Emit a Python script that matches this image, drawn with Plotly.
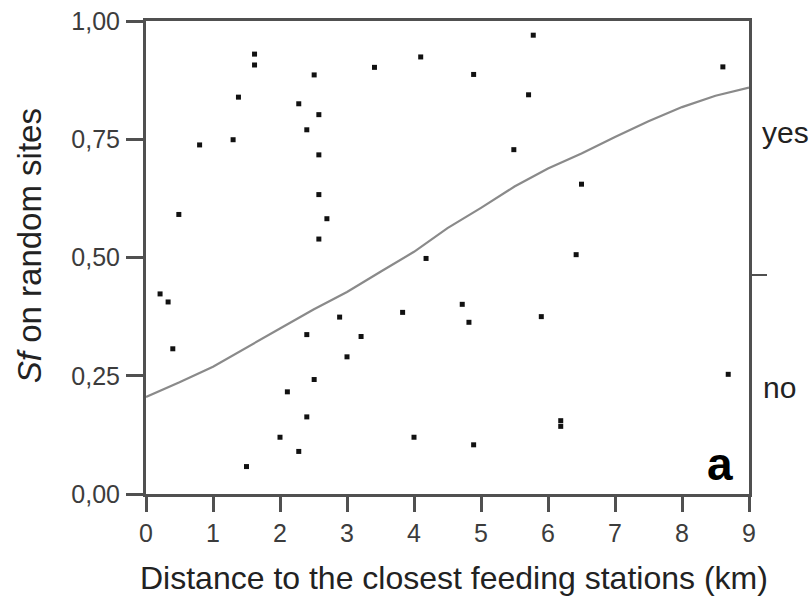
import plotly.graph_objects as go

# scatter points (distance km, Sf)
dist = [1.62, 1.62, 2.51, 3.41, 4.10, 1.38, 2.28, 2.58, 2.40, 0.80, 1.30, 2.58, 0.49, 2.58, 2.70, 2.58,
        4.18, 5.78, 4.89, 5.71, 8.61, 5.49, 6.50, 6.42,
        0.21, 0.33, 0.40, 2.89, 2.40, 3.21, 3.83, 3.00, 2.51, 2.11, 2.40, 2.00, 2.28, 1.50, 4.00,
        4.72, 4.82, 5.90, 8.69, 6.19, 6.19, 4.89]
sf = [0.930, 0.907, 0.886, 0.902, 0.924, 0.839, 0.825, 0.802, 0.770, 0.738, 0.749, 0.717, 0.591, 0.633, 0.582, 0.539,
      0.498, 0.970, 0.887, 0.844, 0.903, 0.728, 0.655, 0.506,
      0.423, 0.406, 0.307, 0.374, 0.337, 0.333, 0.384, 0.290, 0.242, 0.216, 0.163, 0.120, 0.090, 0.058, 0.120,
      0.401, 0.363, 0.375, 0.253, 0.155, 0.143, 0.104]

# fitted curve
curve_x = [0, 0.5, 1, 1.5, 2, 2.5, 3, 3.5, 4, 4.5, 5, 5.5, 6, 6.5, 7, 7.5, 8, 8.5, 9]
curve_y = [0.205, 0.236, 0.269, 0.310, 0.350, 0.390, 0.427, 0.470, 0.512, 0.562, 0.605, 0.650, 0.688,
           0.720, 0.755, 0.788, 0.818, 0.842, 0.859]

x_ticks = [0, 1, 2, 3, 4, 5, 6, 7, 8, 9]
y_ticks = [0, 0.25, 0.5, 0.75, 1.0]
y_ticktext = ["0,00", "0,25", "0,50", "0,75", "1,00"]
right_tick = [0.4625]

FONT = "Liberation Sans, Arial, sans-serif"
AX = "#505050"

fig = go.Figure()
fig.add_trace(go.Scatter(x=curve_x, y=curve_y, mode="lines",
                         line=dict(color="#8a8a8a", width=2.2), showlegend=False, hoverinfo="skip"))
fig.add_trace(go.Scatter(x=dist, y=sf, mode="markers",
                         marker=dict(symbol="square", size=5, color="#111111"), showlegend=False))
fig.add_trace(go.Scatter(x=[None], y=[None], yaxis="y2", showlegend=False))

fig.update_layout(
    width=811, height=603,
    margin=dict(l=146, r=62, t=21, b=109, autoexpand=False),
    paper_bgcolor="white", plot_bgcolor="white",
    font=dict(family=FONT, color="#333333"),
    xaxis=dict(range=[0, 9], tickvals=x_ticks, showgrid=False, zeroline=False, automargin=False,
               showline=True, linecolor=AX, linewidth=3, mirror=True,
               ticks="outside", ticklen=15, tickwidth=2.5, tickcolor=AX,
               tickfont=dict(size=25, color="#3c3c3c")),
    yaxis=dict(range=[0, 1], tickvals=y_ticks, ticktext=y_ticktext, showgrid=False, zeroline=False,
               automargin=False,
               showline=True, linecolor=AX, linewidth=3, mirror=True,
               ticks="outside", ticklen=17, tickwidth=2.5, tickcolor=AX,
               ticklabelstandoff=1,
               tickfont=dict(size=25, color="#3c3c3c")),
    yaxis2=dict(range=[0, 1], overlaying="y", side="right", tickvals=right_tick, automargin=False,
                showticklabels=False, showgrid=False, zeroline=False, showline=False,
                ticks="outside", ticklen=17, tickwidth=2, tickcolor=AX),
    annotations=[
        dict(text="Distance to the closest feeding stations (km)", xref="paper", yref="paper",
             x=0.51, y=-0.178, xanchor="center", yanchor="middle", showarrow=False,
             font=dict(size=32, color="#222222")),
        dict(text="<i>Sf</i> on random sites", xref="paper", yref="paper", textangle=-90,
             x=-0.194, y=0.524, xanchor="center", yanchor="middle", showarrow=False,
             font=dict(size=33, color="#222222")),
        dict(text="yes", xref="paper", yref="y", x=1.018, y=0.765, xanchor="left", yanchor="middle",
             showarrow=False, font=dict(size=30, color="#222222")),
        dict(text="no", xref="paper", yref="y", x=1.02, y=0.225, xanchor="left", yanchor="middle",
             showarrow=False, font=dict(size=30, color="#222222")),
        dict(text="<b>a</b>", xref="paper", yref="paper", x=0.977, y=0.005, xanchor="right", yanchor="bottom",
             showarrow=False, font=dict(size=46, color="#000000")),
    ],
)

fig.write_html("out.html")
